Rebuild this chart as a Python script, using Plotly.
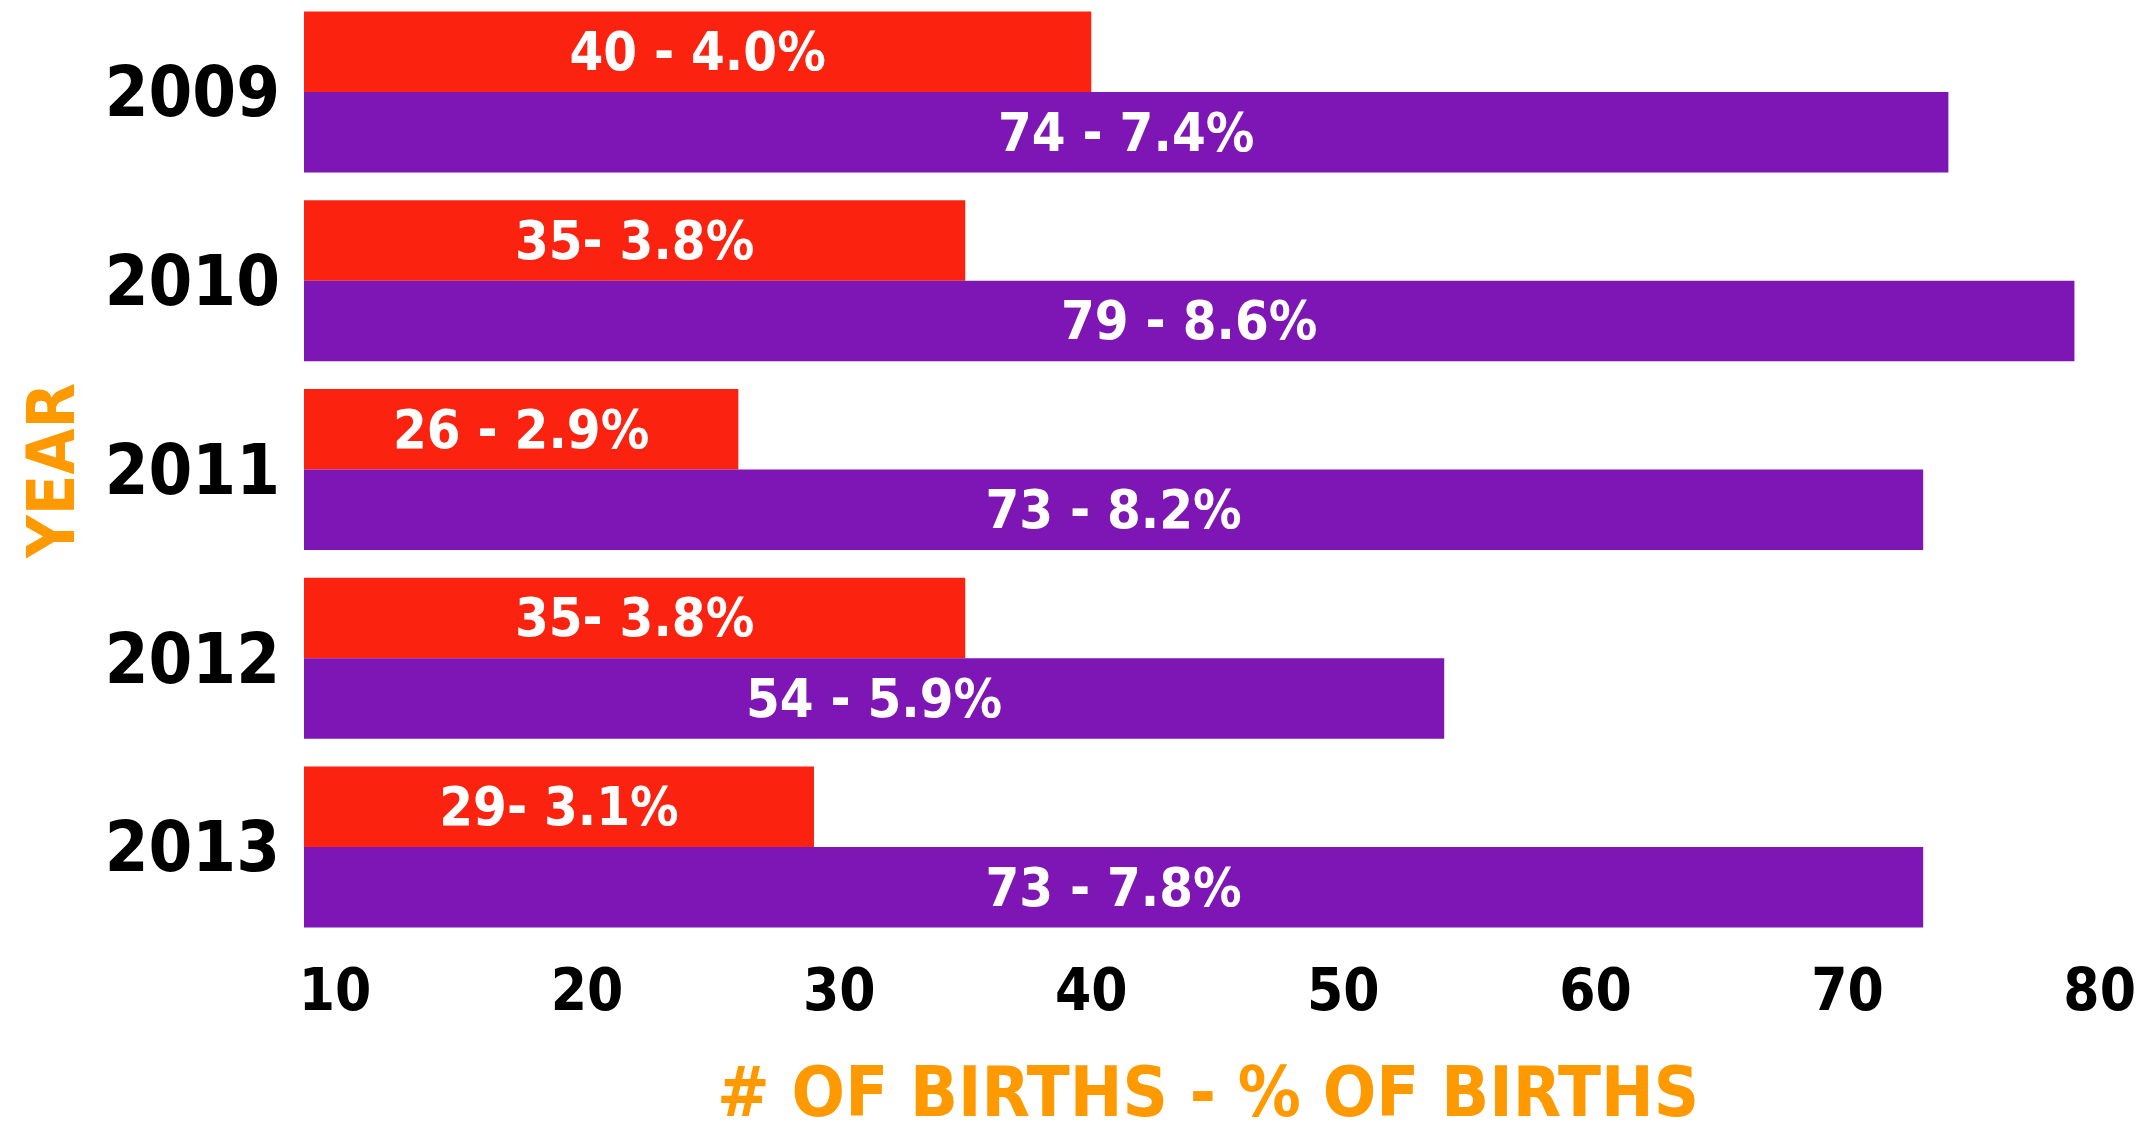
import plotly.graph_objects as go

years = ["2009", "2010", "2011", "2012", "2013"]
births_red = [40, 35, 26, 35, 29]
labels_red = ["40 - 4.0%", "35- 3.8%", "26 - 2.9%", "35- 3.8%", "29- 3.1%"]
births_purple = [74, 79, 73, 54, 73]
labels_purple = ["74 - 7.4%", "79 - 8.6%", "73 - 8.2%", "54 - 5.9%", "73 - 7.8%"]
x_ticks = [10, 20, 30, 40, 50, 60, 70, 80]

FONT = "DejaVu Sans Condensed, DejaVu Sans, sans-serif"
RED = "#fb220f"
PURPLE = "#7e15b5"
ORANGE = "#ff9900"

# the bars in the original start at the left edge of the axis, not at zero
X0 = 8.77
X1 = 80.49

fig = go.Figure()

for vals, labels, color in [(births_red, labels_red, RED),
                            (births_purple, labels_purple, PURPLE)]:
    fig.add_trace(go.Bar(
        y=years,
        x=[v - X0 for v in vals],
        base=X0,
        orientation="h",
        text=labels,
        textposition="inside",
        insidetextanchor="middle",
        textangle=0,
        textfont=dict(family=FONT, size=54, color="white", weight="bold"),
        marker=dict(color=color, line=dict(width=0)),
        hoverinfo="skip"
    ))

fig.update_layout(
    barmode="group",
    bargap=0.147,
    bargroupgap=0,
    width=2142,
    height=1142,
    margin=dict(l=304, r=30, t=0, b=201),
    plot_bgcolor="white",
    paper_bgcolor="white",
    showlegend=False,
    uniformtext=dict(mode=False),
    font=dict(family=FONT, color="black")
)

fig.update_xaxes(
    range=[X0, X1],
    tickvals=x_ticks,
    showgrid=False,
    zeroline=False,
    showline=False,
    ticks="",
    ticklabelstandoff=10,
    ticklabeloverflow="allow",
    tickfont=dict(family=FONT, size=58, color="black", weight="bold"),
    title=dict(text="# OF BIRTHS - % OF BIRTHS",
               font=dict(family=FONT, size=70, color=ORANGE, weight="bold"),
               standoff=43),
    automargin=False
)

fig.update_yaxes(
    range=[4.498, -0.487],
    showgrid=False,
    zeroline=False,
    showline=False,
    ticks="",
    ticklabelstandoff=23,
    tickfont=dict(family=FONT, size=70, color="black", weight="bold"),
    title=dict(text="YEAR",
               font=dict(family=FONT, size=66, color=ORANGE, weight="bold"),
               standoff=8),
    automargin=False
)

# drop the browser's default 8px body margin so the figure fills the window
fig.write_html("out.html", config={"displayModeBar": False},
               post_script="document.body.style.margin='0';")
